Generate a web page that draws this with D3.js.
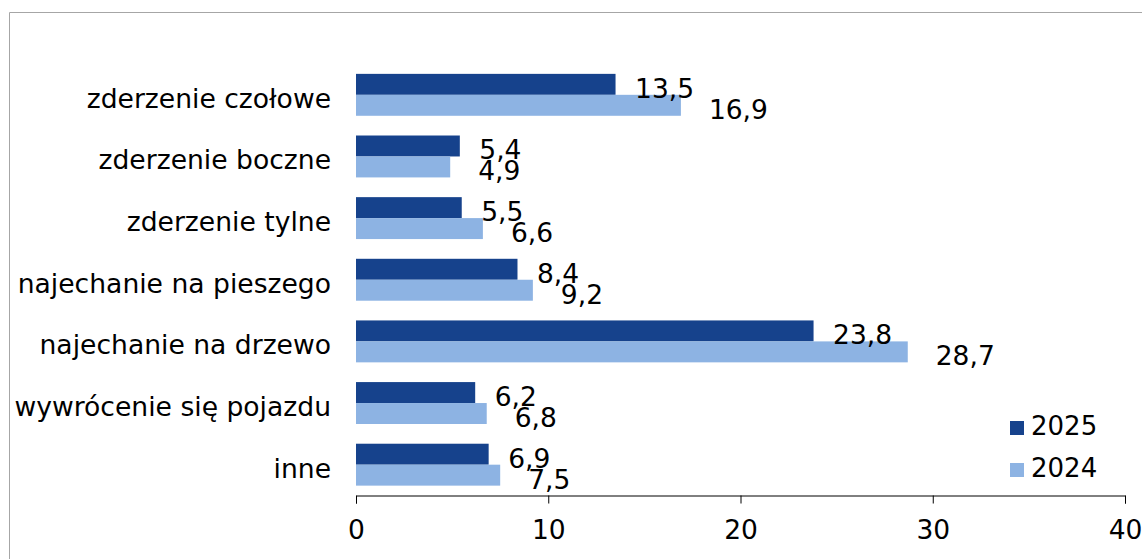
<!DOCTYPE html>
<html>
<head>
<meta charset="utf-8">
<script src="https://cdn.jsdelivr.net/npm/d3@7"></script>
<style>
  body { margin: 0; background: #fff; }
  text { font-family: Verdana, "DejaVu Sans", sans-serif; fill: #000; }
</style>
</head>
<body>
<script>
// categories, top to bottom
var categories = ["zderzenie czołowe", "zderzenie boczne", "zderzenie tylne",
                  "najechanie na pieszego", "najechanie na drzewo",
                  "wywrócenie się pojazdu", "inne"];
var series = ["2025", "2024"];
var values2025 = [13.5, 5.4, 5.5, 8.4, 23.8, 6.2, 6.9];
var values2024 = [16.9, 4.9, 6.6, 9.2, 28.7, 6.8, 7.5];
var xTicks = [0, 10, 20, 30, 40];

var colors = {"2025": "#16428c", "2024": "#8db3e3"};

var width = 1142, height = 559;

var svg = d3.select("body").append("svg")
    .attr("width", width)
    .attr("height", height);

// chart border (only top and left visible in the crop)
svg.append("path")
    .attr("d", "M9.5,559V12.5H1142")
    .attr("fill", "none")
    .attr("stroke", "#a6a6a6")
    .attr("stroke-width", 1);

var x = d3.scaleLinear()
    .domain([0, 40])
    .range([356, 1125]);

var y = d3.scaleBand()
    .domain(categories)
    .range([64, 495.5])
    .paddingInner(0.32)
    .paddingOuter(0.16);

var ySub = d3.scaleBand()
    .domain(series)
    .range([0, y.bandwidth()]);

var rows = categories.map(function(c, i) {
    return {cat: c, vals: [
        {s: "2025", v: values2025[i]},
        {s: "2024", v: values2024[i]}
    ]};
});

var group = svg.selectAll(".grp")
    .data(rows)
    .enter().append("g")
    .attr("class", "grp")
    .attr("transform", function(d) { return "translate(0," + y(d.cat) + ")"; });

group.selectAll("rect")
    .data(function(d) { return d.vals; })
    .enter().append("rect")
    .attr("x", x(0))
    .attr("y", function(d) { return ySub(d.s); })
    .attr("width", function(d) { return x(d.v) - x(0); })
    .attr("height", ySub.bandwidth())
    .attr("fill", function(d) { return colors[d.s]; });

// value labels, Polish decimal comma
group.selectAll("text.val")
    .data(function(d) { return d.vals; })
    .enter().append("text")
    .attr("class", "val")
    .attr("x", function(d) { return x(d.v) + (d.s === "2025" ? 19.5 : 28); })
    .attr("y", function(d) { return ySub(d.s) + ySub.bandwidth() / 2 + 13.5; })
    .style("font-size", "26.5px")
    .text(function(d) { return String(d.v).replace(".", ","); });

// category labels
svg.selectAll("text.cat")
    .data(categories)
    .enter().append("text")
    .attr("class", "cat")
    .attr("x", 331)
    .attr("y", function(d) { return y(d) + y.bandwidth() / 2 + 13; })
    .attr("text-anchor", "end")
    .style("font-size", "26.6px")
    .text(function(d) { return d; });

// x axis
var axis = svg.append("g")
    .attr("transform", "translate(0,495.5)")
    .call(d3.axisBottom(x).tickValues(xTicks).tickSize(8).tickPadding(17)
          .tickFormat(d3.format("d")));
axis.select(".domain").attr("stroke", "#000");
axis.selectAll(".tick line").attr("stroke", "#000");
axis.selectAll(".tick text")
    .style("font-size", "26.5px")
    .style("font-family", "Verdana, 'DejaVu Sans', sans-serif");

// legend
var legend = svg.selectAll(".leg")
    .data(series)
    .enter().append("g")
    .attr("class", "leg")
    .attr("transform", function(d, i) { return "translate(1010," + (421 + i * 42) + ")"; });

legend.append("rect")
    .attr("width", 14)
    .attr("height", 14)
    .attr("fill", function(d) { return colors[d]; });

legend.append("text")
    .attr("x", 21)
    .attr("y", 14)
    .style("font-size", "26px")
    .text(function(d) { return d; });
</script>
</body>
</html>
